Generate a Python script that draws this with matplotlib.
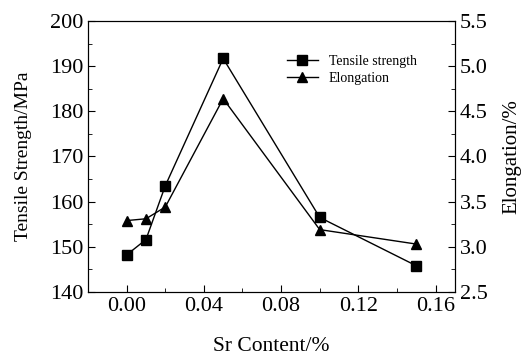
import matplotlib.pyplot as plt
from matplotlib.ticker import MultipleLocator

plt.rcParams['font.family'] = ['Liberation Serif', 'DejaVu Serif']
plt.rcParams['mathtext.fontset'] = 'stix'

sr_content = [0.00, 0.01, 0.02, 0.05, 0.10, 0.15]
tensile_strength = [148.2, 151.6, 163.5, 191.7, 156.5, 145.8]
elongation = [3.29, 3.31, 3.44, 4.64, 3.19, 3.03]

fig = plt.figure(figsize=(5.21, 3.56), dpi=100)
ax = fig.add_axes([0.169, 0.180, 0.704, 0.761])
ax2 = ax.twinx()

l1, = ax.plot(sr_content, tensile_strength, color='black', lw=1.0,
              marker='s', markersize=6.5, label='Tensile strength')
l2, = ax2.plot(sr_content, elongation, color='black', lw=1.0,
               marker='^', markersize=7.5, label='Elongation')

ax.set_xlim(-0.02, 0.17)
ax.set_ylim(140, 200)
ax2.set_ylim(2.5, 5.5)

ax.xaxis.set_major_locator(MultipleLocator(0.04))
ax.xaxis.set_minor_locator(MultipleLocator(0.02))
ax.yaxis.set_major_locator(MultipleLocator(10))
ax.yaxis.set_minor_locator(MultipleLocator(5))
ax2.yaxis.set_major_locator(MultipleLocator(0.5))
ax2.yaxis.set_minor_locator(MultipleLocator(0.25))
ax.xaxis.set_major_formatter(lambda v, p: f'{v:.2f}')
ax2.yaxis.set_major_formatter(lambda v, p: f'{v:.1f}')

ax.tick_params(axis='both', which='both', direction='in', labelsize=16)
ax.tick_params(which='major', length=5)
ax.tick_params(which='minor', length=3)
ax.tick_params(axis='y', which='both', right=False)
ax.tick_params(axis='x', which='both', top=False)
ax2.tick_params(axis='y', which='both', direction='in', labelsize=16)
ax2.tick_params(which='major', length=5)
ax2.tick_params(which='minor', length=3)

ax.set_xlabel('Sr Content/%', fontsize=15.5, labelpad=15)
ax.set_ylabel('Tensile Strength/MPa', fontsize=14, labelpad=13)
ax2.set_ylabel('Elongation/%', fontsize=15, labelpad=11)

ax.legend(handles=[l1, l2], loc='upper right', bbox_to_anchor=(0.93, 0.92),
          frameon=False, fontsize=10, handlelength=2.2, labelspacing=0.3)

fig.savefig('out.png', dpi=100)
